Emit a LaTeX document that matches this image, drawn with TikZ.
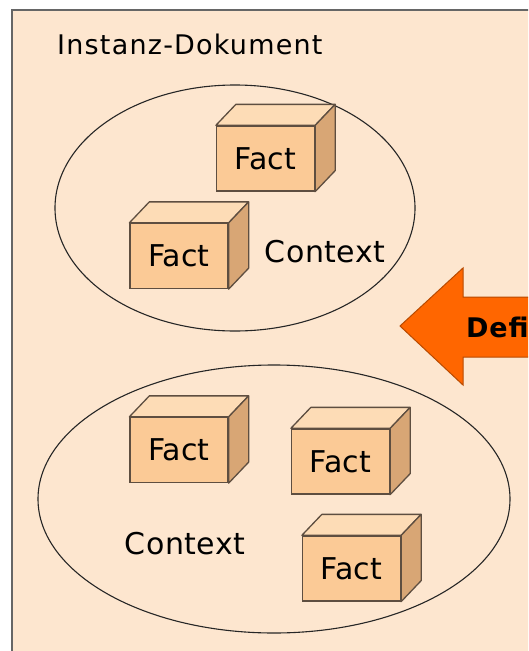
\documentclass[tikz,border=0pt]{standalone}
\usepackage{fontspec}
\setmainfont{DejaVu Sans}
\newfontfamily\titlefont[LetterSpace=4.5]{DejaVu Sans}
\newfontfamily\ctxfont[LetterSpace=1.5]{DejaVu Sans}
\newfontfamily\deffont[LetterSpace=3]{DejaVu Sans Bold}
\usetikzlibrary{calc}
\definecolor{pagebg}{HTML}{FDE6CF}
\definecolor{facefront}{HTML}{FBCA96}
\definecolor{facetop}{HTML}{FDDCB6}
\definecolor{faceside}{HTML}{D8A675}
\definecolor{edgecol}{HTML}{5E4E40}
\definecolor{arrowfill}{HTML}{FF6600}
\definecolor{arrowedge}{HTML}{B84A00}
\tikzset{
  factbox/.style={draw=edgecol, line width=1.3pt, fill=facefront, minimum width=98pt,
    minimum height=65pt, inner sep=0pt, font=\fontsize{30}{36}\selectfont},
  facetopstyle/.style={draw=edgecol, line width=1.3pt, fill=facetop, line join=round},
  facesidestyle/.style={draw=edgecol, line width=1.3pt, fill=faceside, line join=round},
  ctxring/.style={draw=black!85, line width=1.1pt},
  ctxlabel/.style={font=\ctxfont\fontsize{30}{36}\selectfont, inner sep=0pt},
}
\newcommand{\cubefaces}[1]{%
  \draw[facetopstyle] (#1.north west) -- ($(#1.north west)+(20,-21)$)
    -- ($(#1.north east)+(20,-21)$) -- (#1.north east) -- cycle;
  \draw[facesidestyle] (#1.north east) -- ($(#1.north east)+(20,-21)$)
    -- ($(#1.south east)+(20,-21)$) -- (#1.south east) -- cycle;
}
\begin{document}
\begin{tikzpicture}[x=1pt, y=-1pt]
  \useasboundingbox (0,0) rectangle (528,651);
  \clip (0,0) rectangle (528,651);
  \fill[white] (0,0) rectangle (528,651);
  % instance document frame
  \draw[draw=black!60, line width=1.4pt, fill=pagebg] (12,10) rectangle (560,680);
  \node[anchor=west, inner sep=0pt, font=\titlefont\fontsize{27}{32}\selectfont] (title) at (57,44) {Instanz-Dokument};

  % contexts
  \draw[ctxring] (235,208) ellipse [x radius=180, y radius=123];
  \draw[ctxring] (274,499) ellipse [x radius=236, y radius=134];
  \node[ctxlabel] (ctx1) at (325,252) {Context};
  \node[ctxlabel] (ctx2) at (185,544) {Context};

  % facts
  \node[factbox] (f1) at (265.5,158.5) {Fact};
  \cubefaces{f1}
  \node[factbox] (f2) at (179,256) {Fact};
  \cubefaces{f2}
  \node[factbox] (f3) at (179,450) {Fact};
  \cubefaces{f3}
  \node[factbox] (f4) at (340.5,461.5) {Fact};
  \cubefaces{f4}
  \node[factbox] (f5) at (351.5,568.5) {Fact};
  \cubefaces{f5}

  % definition arrow
  \draw[draw=arrowedge, line width=1pt, fill=arrowfill, line join=miter]
    (400,326) -- (463,268) -- (463,297) -- (600,297) -- (600,357)
    -- (463,357) -- (463,385) -- cycle;
  \node[anchor=west, inner sep=0pt, font=\deffont\fontsize{27}{32}\selectfont] (def) at (466,327) {Defi};
\end{tikzpicture}
\end{document}
